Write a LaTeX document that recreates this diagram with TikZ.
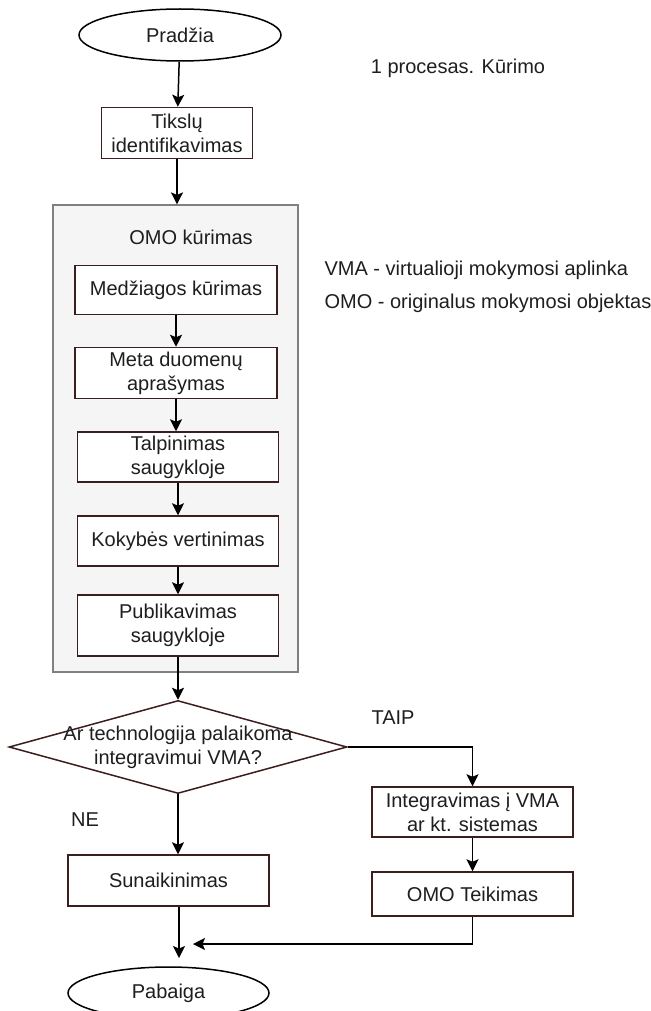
\documentclass[tikz,border=0pt]{standalone}
\usepackage{fontspec}
\setmainfont{Liberation Sans}
\usetikzlibrary{shapes.geometric,arrows.meta}
\definecolor{boxline}{RGB}{60,30,30}
\definecolor{grpfill}{RGB}{245,245,245}
\definecolor{grpline}{RGB}{128,128,128}
\definecolor{txt}{RGB}{30,30,30}
\begin{document}
\begin{tikzpicture}[x=1pt,y=-1pt,
    font=\fontsize{20}{24}\selectfont, text=txt,
    proc/.style={draw=boxline,line width=1.5pt,fill=white,minimum width=201pt,minimum height=50pt,inner sep=0pt,align=center},
    term/.style={draw,ellipse,line width=1.5pt,fill=white,minimum width=202pt,minimum height=52pt,inner sep=0pt},
    decision/.style={draw=boxline,diamond,line width=1.5pt,fill=white,minimum width=338pt,minimum height=93pt,inner sep=0pt},
    arr/.style={-{Stealth[length=12pt,width=12pt,inset=2.5pt]},line width=1.5pt}]
    \useasboundingbox (0,0) rectangle (650,1011);
    \node[draw=grpline,fill=grpfill,line width=1.2pt,minimum width=245pt,minimum height=467pt] (omo) at (175.5,438.5) {}; % group
    \node (omolbl) at (191,237) {OMO kūrimas};
    \node (title) at (458,68) {1 procesas. Kūrimo};
    \node[anchor=west] (vma) at (321,270) {VMA - virtualioji mokymosi aplinka};
    \node[anchor=west] (omodef) at (321,303) {OMO - originalus mokymosi objektas};
    \node[term] (start) at (180,35) {Pradžia};
    \node[proc,minimum width=151pt,minimum height=51pt] (goal) at (177,133) {Tikslų\\identifikavimas};
    \node[proc,minimum width=202pt,minimum height=49pt] (mat) at (176,290) {Medžiagos kūrimas};
    \node[proc,minimum width=202pt,minimum height=51pt] (meta) at (176,373) {Meta duomenų\\aprašymas};
    \node[proc] (store) at (178,457) {Talpinimas\\saugykloje};
    \node[proc] (qual) at (178,541) {Kokybės vertinimas};
    \node[proc,minimum height=61pt] (pub) at (178,625.5) {Publikavimas\\saugykloje};
    \node[decision] (dec) at (178,747) {};
    \node[align=center] (dectxt) at (dec) {Ar technologija palaikoma\\integravimui VMA?};
    \node (yes) at (393,718) {TAIP};
    \node (no) at (85,820) {NE};
    \node[proc] (integ) at (472.5,812) {Integravimas į VMA\\ar kt. sistemas};
    \node[proc,minimum height=44pt] (deliv) at (472.5,894) {OMO Teikimas};
    \node[proc,minimum height=51pt] (dest) at (168.5,880.5) {Sunaikinimas};
    \node[term,minimum width=201pt] (stop) at (168.5,993) {Pabaiga};
    \coordinate (endin) at (179,958); % arrow tip above Pabaiga
    \coordinate (backin) at (193,944); % return arrow tip
    \draw[arr] (start) -- (goal);
    \draw[arr] (goal) -- (goal |- omo.north);
    \draw[arr] (mat) -- (meta);
    \draw[arr] (meta) -- (meta |- store.north);
    \draw[arr] (store) -- (qual);
    \draw[arr] (qual) -- (pub);
    \draw[arr] (pub) -- (dec);
    \draw[arr] (dec.east) -| (integ.north); % TAIP
    \draw[arr] (dec.south) -- (dec.south |- dest.north); % NE
    \draw[arr] (integ) -- (deliv);
    \draw[arr] (dest.south -| endin) -- (endin);
    \draw[arr] (deliv.south) |- (backin);
\end{tikzpicture}
\end{document}
